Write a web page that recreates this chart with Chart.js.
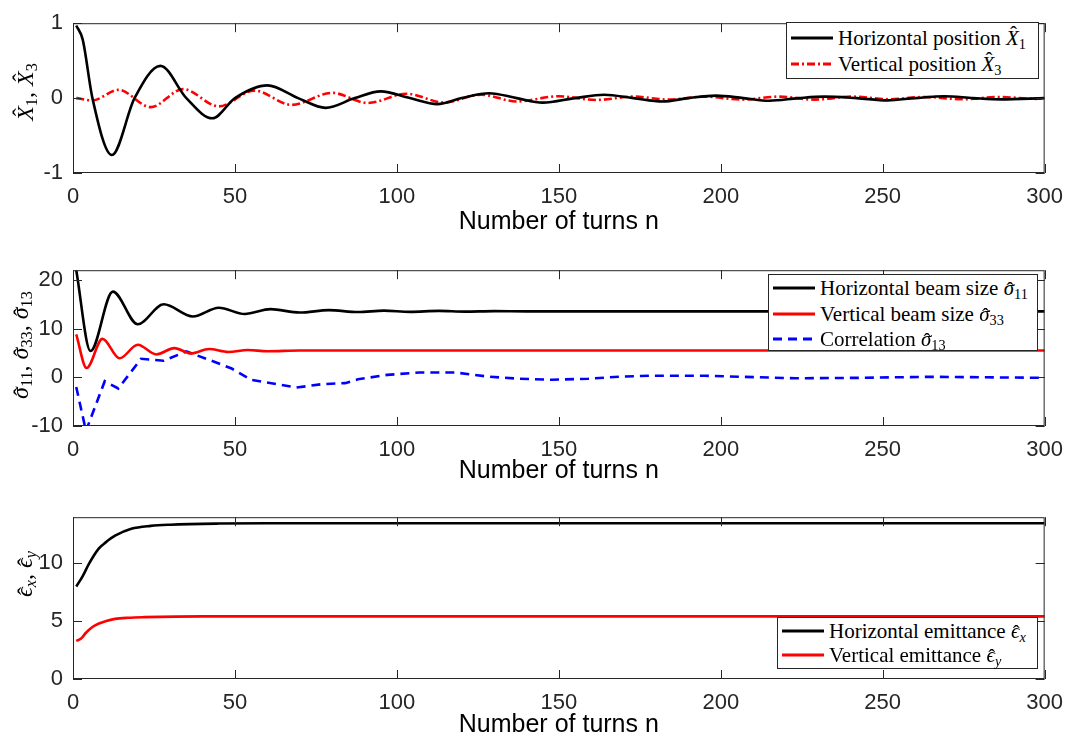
<!DOCTYPE html>
<html>
<head>
<meta charset="utf-8">
<script src="https://cdn.jsdelivr.net/npm/chart.js@4"></script>
<style>
  body { margin: 0; background: #fff; }
  #wrap { position: relative; width: 1074px; height: 742px; overflow: hidden; }
  canvas { position: absolute; left: 0; }
  .ylab {
    position: absolute; font-family: "Liberation Serif", "DejaVu Serif", serif;
    font-size: 24px; color: #000; white-space: nowrap;
    transform: translate(-50%, -50%) rotate(-90deg);
  }
  .legend {
    position: absolute; background: #fff; border: 1px solid #262626;
    font-family: "Liberation Serif", "DejaVu Serif", serif; font-size: 21px; color: #000;
    box-sizing: border-box; padding: 0 6px 0 4px;
  }
  .legend .row { display: flex; align-items: center; white-space: nowrap; }
  .legend svg { margin-right: 5px; flex: none; }
  sub { font-size: 68%; vertical-align: -0.3em; line-height: 0; font-style: normal; }
  /* math hat drawn with css so it sits above the letter */
  .hc, .hl { position: relative; font-style: italic; display: inline-block; line-height: 1; }
  .hc::after, .hl::after {
    content: "\02C6"; position: absolute; left: 50%; transform: translateX(-35%);
    font-style: normal; line-height: 1;
  }
  .hc::after { top: -0.16em; }
  .hl::after { top: 0.1em; }
</style>
</head>
<body>
<div id="wrap">
  <canvas id="c1" width="1074" height="247" style="top:0"></canvas>
  <canvas id="c2" width="1074" height="247" style="top:247px"></canvas>
  <canvas id="c3" width="1074" height="248" style="top:494px"></canvas>

  <div class="ylab" style="left:25px; top:92px"><span class="hc">X</span><sub>1</sub>, <span class="hc">X</span><sub>3</sub></div>
  <div class="ylab" style="left:20px; top:345px"><span class="hl">σ</span><sub>11</sub>, <span class="hl">σ</span><sub>33</sub>, <span class="hl">σ</span><sub>13</sub></div>
  <div class="ylab" style="left:24px; top:574px"><span class="hl">ϵ</span><sub><i>x</i></sub>, <span class="hl">ϵ</span><sub><i>y</i></sub></div>

  <div class="legend" style="left:786px; top:22px; width:253px; height:57px; padding-top:2px">
    <div class="row" style="height:26px"><svg width="42" height="6"><line x1="0" y1="3" x2="42" y2="3" stroke="#000" stroke-width="3"/></svg><span>Horizontal position <span class="hc">X</span><sub>1</sub></span></div>
    <div class="row" style="height:26px"><svg width="42" height="6"><line x1="0" y1="3" x2="42" y2="3" stroke="#f00" stroke-width="3" stroke-dasharray="8 3 2 3"/></svg><span>Vertical position <span class="hc">X</span><sub>3</sub></span></div>
  </div>
  <div class="legend" style="left:768px; top:274px; width:270px; height:77px; padding-top:0">
    <div class="row" style="height:26px"><svg width="42" height="6"><line x1="0" y1="3" x2="42" y2="3" stroke="#000" stroke-width="3"/></svg><span>Horizontal beam size <span class="hl">σ</span><sub>11</sub></span></div>
    <div class="row" style="height:26px"><svg width="42" height="6"><line x1="0" y1="3" x2="42" y2="3" stroke="#f00" stroke-width="3"/></svg><span>Vertical beam size <span class="hl">σ</span><sub>33</sub></span></div>
    <div class="row" style="height:24px"><svg width="42" height="6"><line x1="0" y1="3" x2="42" y2="3" stroke="#00f" stroke-width="3" stroke-dasharray="9 6"/></svg><span>Correlation <span class="hl">σ</span><sub>13</sub></span></div>
  </div>
  <div class="legend" style="left:777px; top:617px; width:261px; height:52px; padding-top:1px">
    <div class="row" style="height:24px"><svg width="42" height="6"><line x1="0" y1="3" x2="42" y2="3" stroke="#000" stroke-width="3"/></svg><span>Horizontal emittance <span class="hl">ϵ</span><sub><i>x</i></sub></span></div>
    <div class="row" style="height:24px"><svg width="42" height="6"><line x1="0" y1="3" x2="42" y2="3" stroke="#f00" stroke-width="3"/></svg><span>Vertical emittance <span class="hl">ϵ</span><sub><i>y</i></sub></span></div>
  </div>
</div>

<script>
// position plot: turns + values (extrema / crossings)
const x1Turns = [1, 3, 6, 12, 19, 27, 35, 43, 50, 60, 69.5, 78, 87, 95, 104, 112.5, 120, 128.5, 137, 145, 155, 164, 173, 182, 190, 198.5, 207, 215, 224, 232, 242, 251.5, 260, 269, 278, 286.5, 300];
const x1Vals  = [0.97, 0.78, 0, -0.76, 0, 0.43, 0, -0.27, 0, 0.17, 0, -0.13, 0, 0.09, 0, -0.08, 0, 0.065, 0, -0.06, 0, 0.045, 0, -0.045, 0, 0.033, 0, -0.035, 0, 0.02, 0, -0.03, 0, 0.025, 0, -0.017, 0];
const x3Turns = [1, 6, 14, 24, 34, 45, 56, 67.5, 80, 91, 103, 114.5, 126, 137, 150, 161.5, 173, 184, 195, 206.5, 218, 229, 240.5, 252, 263, 274.5, 286, 297, 300];
const x3Vals  = [0, -0.03, 0.11, -0.12, 0.12, -0.11, 0.1, -0.09, 0.07, -0.065, 0.058, -0.058, 0.046, -0.045, 0.025, -0.025, 0.02, -0.02, 0.02, -0.02, 0.02, -0.02, 0.02, -0.015, 0.015, -0.015, 0.015, -0.01, 0];

// beam size plot
const s11Turns = [1, 5.4, 12.3, 20, 28, 37, 45, 53, 61, 70, 79, 88, 96, 104, 113, 121, 130, 140, 160, 200, 250, 300];
const s11Vals  = [22, 5.4, 17.6, 10.9, 15.0, 12.5, 14.3, 13.0, 14.0, 13.3, 13.8, 13.4, 13.7, 13.45, 13.65, 13.5, 13.6, 13.55, 13.55, 13.55, 13.55, 13.55];
const s33Turns = [1, 4.2, 9.1, 14.4, 20, 25.7, 31.3, 36.4, 42, 48, 54, 60, 70, 100, 300];
const s33Vals  = [8.8, 1.9, 7.9, 3.9, 6.7, 4.7, 6.0, 4.9, 5.8, 5.2, 5.6, 5.35, 5.5, 5.5, 5.5];
const s13Turns = [1, 4, 9.8, 14, 21, 28, 35, 44, 49, 55, 69, 77, 84, 88, 97, 107, 118, 128, 138, 148, 159, 169, 179, 195, 223, 244, 264, 300];
const s13Vals  = [-2, -11, -0.8, -2.3, 3.8, 3.4, 5.3, 3.1, 1.8, -0.5, -2.1, -1.4, -1.2, -0.4, 0.5, 1.0, 1.0, 0.15, -0.3, -0.5, -0.3, 0.15, 0.33, 0.33, -0.2, -0.1, 0.1, -0.1];

// emittance plot
const exTurns = [1, 3, 5, 8, 10, 13, 18, 24, 30, 45, 60, 300];
const exVals  = [8.0, 8.9, 10.0, 11.3, 11.8, 12.4, 13.0, 13.25, 13.35, 13.45, 13.48, 13.48];
const eyTurns = [1, 2.5, 4, 6, 8, 10, 13, 17, 22, 40, 300];
const eyVals  = [3.3, 3.5, 4.0, 4.5, 4.8, 5.0, 5.2, 5.3, 5.35, 5.42, 5.42];

const xTitle = 'Number of turns n';
const axisColor = '#262626';
const tickFont = { family: '"Liberation Sans", Arial, sans-serif', size: 22 };

function pts(turns, vals) {
    return turns.map((n, i) => ({ x: n, y: vals[i] }));
}

// box round the axes + MATLAB style inward ticks
const boxPlugin = {
    id: 'box',
    afterDatasetsDraw(chart) {
        const { ctx, chartArea: a, scales } = chart;
        const len = 9;
        ctx.save();
        ctx.strokeStyle = axisColor;
        ctx.lineWidth = 1;
        ctx.strokeRect(a.left + 0.5, a.top + 0.5, a.right - a.left - 1, a.bottom - a.top - 1);
        ctx.beginPath();
        scales.x.ticks.forEach(t => {
            const px = Math.round(scales.x.getPixelForValue(t.value)) + 0.5;
            ctx.moveTo(px, a.top); ctx.lineTo(px, a.top + len);
            ctx.moveTo(px, a.bottom); ctx.lineTo(px, a.bottom - len);
        });
        scales.y.ticks.forEach(t => {
            const py = Math.round(scales.y.getPixelForValue(t.value)) + 0.5;
            ctx.moveTo(a.left, py); ctx.lineTo(a.left + len, py);
            ctx.moveTo(a.right, py); ctx.lineTo(a.right - len, py);
        });
        ctx.stroke();
        ctx.restore();
    }
};

function makeChart(id, datasets, y, top, xHeight, titlePad) {
    return new Chart(document.getElementById(id), {
        type: 'line',
        data: { datasets },
        plugins: [boxPlugin],
        options: {
            responsive: false,
            devicePixelRatio: 1,
            animation: false,
            layout: { padding: { top: top, right: 23, left: 0, bottom: 0 } },
            plugins: { legend: { display: false }, tooltip: { enabled: false } },
            elements: { point: { radius: 0 } },
            scales: {
                x: {
                    type: 'linear', min: 0, max: 300,
                    grid: { display: false, drawTicks: false },
                    border: { display: false },
                    ticks: { stepSize: 50, padding: 11, color: axisColor, font: tickFont, maxRotation: 0 },
                    title: { display: true, text: xTitle, color: '#000', font: { family: tickFont.family, size: 25 }, padding: { top: 0, bottom: titlePad } },
                    afterFit: s => { s.height = xHeight; }
                },
                y: {
                    min: y.min, max: y.max,
                    grid: { display: false, drawTicks: false },
                    border: { display: false },
                    ticks: { stepSize: y.step, includeBounds: false, padding: 10, color: axisColor, font: tickFont },
                    afterFit: s => { s.width = 73; }
                }
            }
        }
    });
}

makeChart('c1', [
    { data: pts(x1Turns, x1Vals), borderColor: '#000', borderWidth: 2.6, cubicInterpolationMode: 'monotone' },
    { data: pts(x3Turns, x3Vals), borderColor: '#f00', borderWidth: 2.6, borderDash: [8, 3, 2, 3], cubicInterpolationMode: 'monotone' }
], { min: -1, max: 1, step: 1 }, 12, 74, 10);

makeChart('c2', [
    { data: pts(s11Turns, s11Vals), borderColor: '#000', borderWidth: 2.6, cubicInterpolationMode: 'monotone' },
    { data: pts(s33Turns, s33Vals), borderColor: '#f00', borderWidth: 2.6, cubicInterpolationMode: 'monotone' },
    { data: pts(s13Turns, s13Vals), borderColor: '#00f', borderWidth: 2.6, borderDash: [9, 6], tension: 0 }
], { min: -10, max: 22, step: 10 }, 17, 68, 8);

makeChart('c3', [
    { data: pts(exTurns, exVals), borderColor: '#000', borderWidth: 2.6, cubicInterpolationMode: 'monotone' },
    { data: pts(eyTurns, eyVals), borderColor: '#f00', borderWidth: 2.6, cubicInterpolationMode: 'monotone' }
], { min: 0, max: 14, step: 5 }, 21, 63, 2);
</script>
</body>
</html>
